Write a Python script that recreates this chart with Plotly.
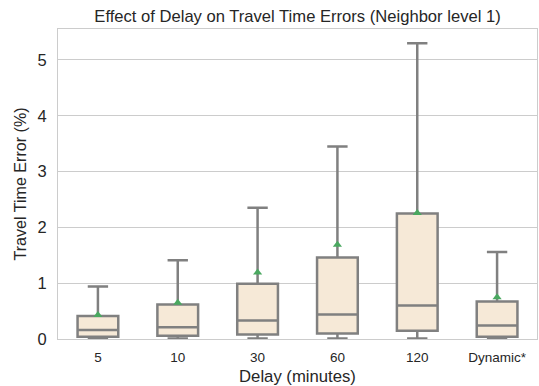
import plotly.graph_objects as go

categories = ["5", "10", "30", "60", "120", "Dynamic*"]
lower = [0.01, 0.01, 0.01, 0.01, 0.01, 0.01]
q1 = [0.04, 0.06, 0.08, 0.10, 0.15, 0.04]
median = [0.16, 0.21, 0.33, 0.44, 0.60, 0.24]
q3 = [0.41, 0.62, 0.99, 1.46, 2.25, 0.67]
upper = [0.94, 1.41, 2.35, 3.45, 5.30, 1.56]
means = [0.43, 0.65, 1.19, 1.69, 2.26, 0.75]

FONT = "Liberation Sans, Arial, sans-serif"
GRAY = "rgb(128,128,128)"

fig = go.Figure()
fig.add_trace(go.Box(
    x=categories, q1=q1, median=median, q3=q3,
    lowerfence=lower, upperfence=upper,
    fillcolor="rgb(246,233,215)",
    line=dict(color=GRAY, width=2.5),
    whiskerwidth=0.5, boxpoints=False, showlegend=False,
))
fig.add_trace(go.Scatter(
    x=categories, y=means, mode="markers",
    marker=dict(symbol="triangle-up", size=8, color="#4aa860"),
    showlegend=False,
))

fig.update_layout(
    width=539, height=386,
    margin=dict(l=58, r=2, t=29, b=47),
    paper_bgcolor="white", plot_bgcolor="white",
    boxgap=0.49, boxgroupgap=0,
    font=dict(family=FONT, color="rgb(38,38,38)"),
    title=dict(text="Effect of Delay on Travel Time Errors (Neighbor level 1)",
               x=0.552, xanchor="center", y=0.957, yanchor="middle",
               font=dict(size=16.6, color="rgb(38,38,38)")),
    xaxis=dict(
        type="category",
        title=dict(text="Delay (minutes)", font=dict(size=16.7), standoff=7),
        tickfont=dict(size=13.5), ticklabelstandoff=6,
        showgrid=False, showline=True, linecolor="rgb(204,204,204)", linewidth=1.2,
        mirror=True, ticks="", ticklen=0,
    ),
    yaxis=dict(
        range=[0, 5.555],
        tickvals=[0, 1, 2, 3, 4, 5],
        title=dict(text="Travel Time Error (%)", font=dict(size=16.1), standoff=6),
        tickfont=dict(size=16.5), ticklabelstandoff=7,
        showgrid=True, gridcolor="rgb(204,204,204)", gridwidth=1.2,
        showline=True, linecolor="rgb(204,204,204)", linewidth=1.2, mirror=True,
        zeroline=False, ticks="",
    ),
)

fig.write_html("out.html")
